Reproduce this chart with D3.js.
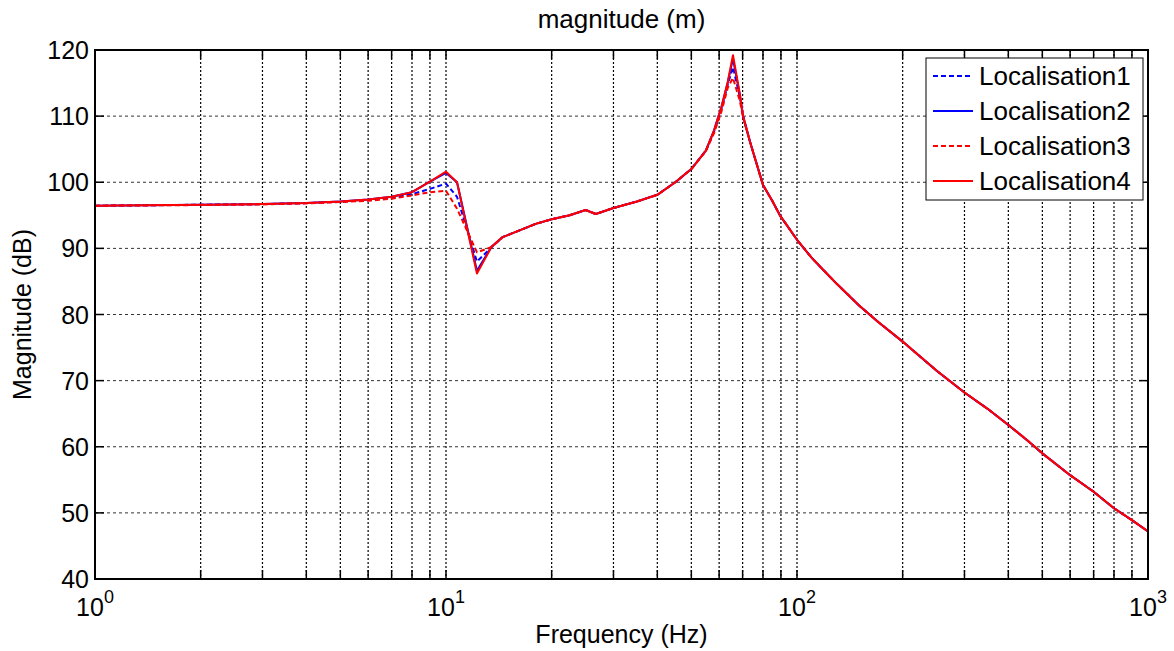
<!DOCTYPE html>
<html>
<head>
<meta charset="utf-8">
<script src="https://cdn.jsdelivr.net/npm/d3@7"></script>
<style>
  body { margin: 0; background: #fff; }
  text { font-family: Arial, "Liberation Sans", sans-serif; fill: #000; }
</style>
</head>
<body>
<svg></svg>
<script>
// frequency samples (Hz) and magnitudes (dB)
var freqs = [1, 2, 3, 4, 5, 6, 7, 8, 9, 10, 10.75, 12.25, 13.5, 14.5, 16, 18, 20, 22.5, 25, 26.7, 30, 35, 40, 45, 50, 55, 58, 61, 63.5, 65.7, 68.8, 70.2, 73.5, 80, 85, 89.4, 100, 110, 120, 130, 150, 170, 200, 250, 300, 350, 400, 450, 500, 600, 700, 800, 900, 1000];

var loc1 = [96.45, 96.6, 96.7, 96.85, 97.05, 97.3, 97.7, 98.2, 99.0, 99.8, 97.8, 88.0, 90.2, 91.7, 92.6, 93.7, 94.4, 95.0, 95.8, 95.2, 96.1, 97.1, 98.1, 100.0, 102.0, 104.8, 107.6, 111.2, 114.8, 117.4, 112.8, 110.0, 106.1, 99.6, 97.2, 95.0, 91.3, 88.6, 86.5, 84.6, 81.4, 78.9, 75.9, 71.5, 68.2, 65.7, 63.3, 61.1, 59.0, 55.7, 53.2, 50.7, 48.9, 47.2];
var loc2 = [96.45, 96.6, 96.7, 96.85, 97.1, 97.4, 97.8, 98.5, 100.1, 101.4, 100.0, 86.6, 90.3, 91.7, 92.6, 93.7, 94.4, 95.0, 95.8, 95.2, 96.1, 97.1, 98.1, 100.0, 102.0, 104.8, 107.8, 111.5, 115.1, 118.7, 113.1, 110.0, 106.1, 99.6, 97.2, 95.0, 91.3, 88.6, 86.5, 84.6, 81.4, 78.9, 75.9, 71.5, 68.2, 65.7, 63.3, 61.1, 59.0, 55.7, 53.2, 50.7, 48.9, 47.2];
var loc3 = [96.45, 96.55, 96.65, 96.8, 97.0, 97.2, 97.5, 98.0, 98.5, 98.7, 96.0, 89.4, 90.2, 91.7, 92.6, 93.7, 94.4, 95.0, 95.8, 95.2, 96.1, 97.1, 98.1, 100.0, 102.0, 104.7, 107.4, 110.8, 114.3, 115.8, 112.2, 109.8, 106.1, 99.6, 97.2, 95.0, 91.3, 88.6, 86.5, 84.6, 81.4, 78.9, 75.9, 71.5, 68.2, 65.7, 63.3, 61.1, 59.0, 55.7, 53.2, 50.7, 48.9, 47.2];
var loc4 = [96.45, 96.6, 96.7, 96.85, 97.1, 97.4, 97.8, 98.5, 100.1, 101.6, 100.0, 86.2, 90.3, 91.7, 92.6, 93.7, 94.4, 95.0, 95.8, 95.2, 96.1, 97.1, 98.1, 100.0, 102.0, 104.8, 107.8, 111.5, 115.2, 119.2, 113.2, 110.0, 106.1, 99.6, 97.2, 95.0, 91.3, 88.6, 86.5, 84.6, 81.4, 78.9, 75.9, 71.5, 68.2, 65.7, 63.3, 61.1, 59.0, 55.7, 53.2, 50.7, 48.9, 47.2];

var seriesNames = ['Localisation1', 'Localisation2', 'Localisation3', 'Localisation4'];
var yTicks = [40, 50, 60, 70, 80, 90, 100, 110, 120];
var xDecades = [1, 10, 100, 1000];
var xExponents = ['0', '1', '2', '3'];

var padding = {
  top: 50,
  right: 26,
  bottom: 72,
  left: 95
}
var width = 1174;
var height = 651;

var svg = d3.select('svg')
    .attr('width', width)
    .attr('height', height)

var xScale = d3.scaleLog()
  .domain([1, 1000])
  .range([padding.left, width - padding.right]);

var yScale = d3.scaleLinear()
  .domain([40, 120])
  .range([height - padding.bottom, padding.top]);

var x0 = padding.left, x1 = width - padding.right;
var y0 = padding.top, y1 = height - padding.bottom;

// minor log positions 1..9 in each decade
var minorX = [];
for (var d = 0; d < 3; d++) {
  for (var k = 1; k < 10; k++) minorX.push(xDecades[d] * k);
}
minorX.push(1000);

// vertical dotted grid
svg.append('g')
  .selectAll('line')
  .data(minorX.filter(v => v > 1 && v < 1000))
  .enter()
  .append('line')
    .attr('x1', d => xScale(d))
    .attr('x2', d => xScale(d))
    .attr('y1', y0)
    .attr('y2', y1)
    .style('stroke', '#000')
    .style('stroke-width', 1.2)
    .style('stroke-dasharray', '2,2')

// horizontal dashed grid
svg.append('g')
  .selectAll('line')
  .data(yTicks.filter(v => v > 40 && v < 120))
  .enter()
  .append('line')
    .attr('x1', x0)
    .attr('x2', x1)
    .attr('y1', d => yScale(d))
    .attr('y2', d => yScale(d))
    .style('stroke', '#333')
    .style('stroke-width', 1)
    .style('stroke-dasharray', '3,3')

// ticks (inward) on all four sides
var tickLen = 9;
var tickG = svg.append('g').style('stroke', '#000').style('stroke-width', 1.5);
minorX.forEach(function(v) {
  tickG.append('line').attr('x1', xScale(v)).attr('x2', xScale(v)).attr('y1', y1).attr('y2', y1 - tickLen);
  tickG.append('line').attr('x1', xScale(v)).attr('x2', xScale(v)).attr('y1', y0).attr('y2', y0 + tickLen);
});
yTicks.forEach(function(v) {
  tickG.append('line').attr('x1', x0).attr('x2', x0 + tickLen).attr('y1', yScale(v)).attr('y2', yScale(v));
  tickG.append('line').attr('x1', x1).attr('x2', x1 - tickLen).attr('y1', yScale(v)).attr('y2', yScale(v));
});

// the data lines
svg.append('clipPath').attr('id', 'plotclip')
  .append('rect').attr('x', x0).attr('y', y0).attr('width', x1 - x0).attr('height', y1 - y0);

var allSeries = [loc1, loc2, loc3, loc4];
var colors = ['#0000ff', '#0000ff', '#ff0000', '#ff0000'];
var dashes = ['5,3', null, '5,3', null];

var line = d3.line()
  .x((d, i) => xScale(freqs[i]))
  .y(d => yScale(d));

svg.append('g')
  .attr('clip-path', 'url(#plotclip)')
  .selectAll('path')
  .data(allSeries)
  .enter()
  .append('path')
    .attr('d', d => line(d))
    .style('fill', 'none')
    .style('stroke', (d, i) => colors[i])
    .style('stroke-width', 2)
    .style('stroke-linejoin', 'round')
    .style('stroke-dasharray', (d, i) => dashes[i])

// axes box
svg.append('rect')
  .attr('x', x0).attr('y', y0)
  .attr('width', x1 - x0).attr('height', y1 - y0)
  .style('fill', 'none')
  .style('stroke', '#000')
  .style('stroke-width', 2)

// y tick labels
svg.append('g')
  .selectAll('text')
  .data(yTicks)
  .enter()
  .append('text')
    .attr('x', x0 - 6)
    .attr('y', d => yScale(d))
    .attr('dy', '0.36em')
    .attr('text-anchor', 'end')
    .style('font-size', '25px')
    .text(d => d);

// x tick labels 10^n
var xl = svg.append('g')
  .selectAll('text')
  .data(xDecades)
  .enter()
  .append('text')
    .attr('x', d => xScale(d))
    .attr('y', y1 + 37)
    .attr('text-anchor', 'middle')
    .style('font-size', '25px');
xl.append('tspan').text('10');
xl.append('tspan')
  .attr('dy', -13)
  .style('font-size', '18px')
  .text((d, i) => xExponents[i]);

// titles
svg.append('text')
  .attr('x', (x0 + x1) / 2)
  .attr('y', 28)
  .attr('text-anchor', 'middle')
  .style('font-size', '26px')
  .text('magnitude (m)');

svg.append('text')
  .attr('x', (x0 + x1) / 2)
  .attr('y', 643)
  .attr('text-anchor', 'middle')
  .style('font-size', '25px')
  .text('Frequency (Hz)');

svg.append('text')
  .attr('transform', 'translate(' + 31 + ',' + ((y0 + y1) / 2) + ') rotate(-90)')
  .attr('text-anchor', 'middle')
  .style('font-size', '25px')
  .text('Magnitude (dB)');

// legend
var legend = svg.append('g').attr('transform', 'translate(926,58)');
legend.append('rect')
  .attr('width', 217)
  .attr('height', 142)
  .style('fill', '#fff')
  .style('stroke', '#000')
  .style('stroke-width', 1)

var rows = legend.selectAll('g.row')
  .data(seriesNames)
  .enter()
  .append('g')
    .attr('class', 'row')
    .attr('transform', (d, i) => 'translate(0,' + (18 + i * 35) + ')');
rows.append('line')
  .attr('x1', 7).attr('x2', 47)
  .style('stroke', (d, i) => colors[i])
  .style('stroke-width', 2)
  .style('stroke-dasharray', (d, i) => dashes[i]);
rows.append('text')
  .attr('x', 53)
  .attr('dy', '0.36em')
  .style('font-size', '26px')
  .text(d => d);
</script>
</body>
</html>
